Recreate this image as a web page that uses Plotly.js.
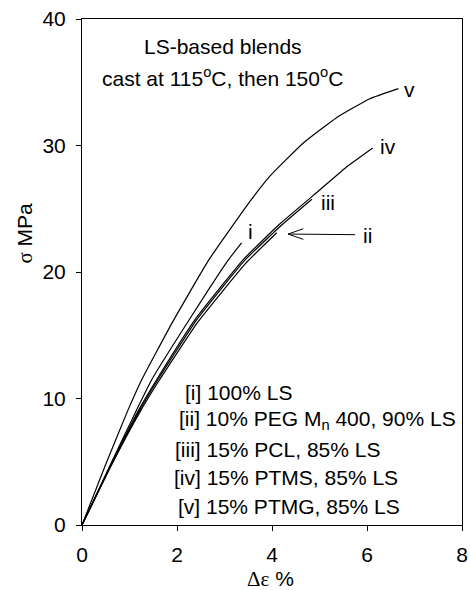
<!DOCTYPE html>
<html>
<head>
<meta charset="utf-8">
<script src="https://cdn.plot.ly/plotly-3.0.1.min.js"></script>
<style>html,body{margin:0;padding:0;background:#fff;}</style>
</head>
<body>
<div id="chart" style="width:470px;height:590px;"></div>
<script>
// Curve data (strain %, stress MPa)
const x_i   = [0, 0.5, 1.15, 1.47, 2.27, 3.07, 3.36];
const y_i   = [0, 4.0, 9.1, 11.5, 16.3, 20.9, 22.3];
const x_ii  = [0, 0.6, 1.23, 1.62, 2.43, 3.45, 4.10];
const y_ii  = [0, 4.6, 9.0, 11.4, 16.0, 20.7, 23.1];
const x_iii = [0, 0.6, 1.22, 1.6, 2.41, 3.42, 4.2, 4.84];
const y_iii = [0, 4.6, 9.1, 11.5, 16.2, 20.9, 23.7, 25.75];
const x_iv  = [0, 0.6, 1.21, 1.59, 2.39, 3.40, 4.18, 5.01, 5.57, 6.12];
const y_iv  = [0, 4.7, 9.2, 11.6, 16.3, 21.0, 23.85, 26.5, 28.3, 29.8];
const x_v   = [0, 0.5, 0.97, 1.26, 1.9, 2.66, 3.54, 3.96, 4.66, 5.36, 6.06, 6.66];
const y_v   = [0, 4.8, 9.1, 11.5, 16.0, 20.9, 25.6, 27.6, 30.2, 32.2, 33.7, 34.5];

const curveLabels = ['i', 'ii', 'iii', 'iv', 'v'];
const labelX = [3.54, 6.0, 5.18, 6.44, 6.9];
const labelY = [23.2, 22.9, 25.5, 29.9, 34.4];

const legendLines = ['[i] 100% LS', '[ii] 10% PEG M<sub>n</sub> 400, 90% LS', '[iii] 15% PCL, 85% LS', '[iv] 15% PTMS, 85% LS', '[v] 15% PTMG, 85% LS'];
const legendLeft = [2.13, 2.0, 1.92, 1.9, 1.98];
const legendY = [10.5, 8.3, 5.93, 3.79, 1.5];

// arrow pointing at curve ii
const arrowTail = [5.75, 22.95];
const arrowTip = [4.34, 23.0];

const xTicks = [0, 2, 4, 6, 8];
const yTicks = [0, 10, 20, 30, 40];

const font = 'Liberation Sans, Arial, sans-serif';
const fs = 21;
const lineStyle = {color: '#000', width: 1.2, shape: 'spline', smoothing: 0.4};

const series = [[x_i, y_i], [x_ii, y_ii], [x_iii, y_iii], [x_iv, y_iv], [x_v, y_v]];
const traces = series.map((s, k) => ({
  x: s[0], y: s[1], mode: 'lines', type: 'scatter', line: lineStyle,
  name: curveLabels[k], hoverinfo: 'skip', showlegend: false
}));

// arrow shaft and open head
const hx = 0.32, hy = 0.42;
traces.push({
  x: [arrowTail[0], arrowTip[0], null, arrowTip[0] + hx, arrowTip[0], arrowTip[0] + hx],
  y: [arrowTail[1], arrowTip[1], null, arrowTip[1] + hy, arrowTip[1], arrowTip[1] - hy],
  mode: 'lines', type: 'scatter', line: {color: '#000', width: 1}, showlegend: false, hoverinfo: 'skip'
});

const annotations = [];
curveLabels.forEach((t, k) => annotations.push({
  x: labelX[k], y: labelY[k], xref: 'x', yref: 'y', text: t, showarrow: false,
  xanchor: 'center', yanchor: 'middle',
  font: {family: font, size: fs, color: '#000'}
}));
legendLines.forEach((t, k) => annotations.push({
  x: legendLeft[k], y: legendY[k], xref: 'x', yref: 'y', text: t, showarrow: false,
  xanchor: 'left', yanchor: 'middle', font: {family: font, size: fs, color: '#000'}
}));
annotations.push({
  x: 0.372, y: 0.945, xref: 'paper', yref: 'paper', text: 'LS-based blends', showarrow: false,
  xanchor: 'center', yanchor: 'middle', font: {family: font, size: fs, color: '#000'}
});
annotations.push({
  x: 0.37, y: 0.885, xref: 'paper', yref: 'paper', text: 'cast at 115<sup>o</sup>C, then 150<sup>o</sup>C', showarrow: false,
  xanchor: 'center', yanchor: 'middle', font: {family: font, size: fs, color: '#000'}
});
// axis titles
annotations.push({
  x: 0.495, y: 0, xref: 'paper', yref: 'paper', yshift: -54, xanchor: 'center', yanchor: 'middle',
  text: '<span style="font-family:Liberation Serif">Δε</span> %',
  showarrow: false, font: {family: font, size: fs, color: '#000'}
});
annotations.push({
  x: 0, y: 0.576, xref: 'paper', yref: 'paper', xshift: -57, xanchor: 'center', yanchor: 'middle',
  text: '<span style="font-family:Liberation Serif">σ</span> MPa',
  textangle: -90, showarrow: false, font: {family: font, size: fs, color: '#000'}
});

const layout = {
  width: 470, height: 590,
  margin: {l: 82, r: 8, t: 19, b: 65},
  paper_bgcolor: '#fff', plot_bgcolor: '#fff',
  showlegend: false,
  xaxis: {
    range: [0, 8], tickvals: xTicks, ticktext: xTicks.map(String),
    ticks: 'outside', ticklen: 5, tickcolor: '#000', tickwidth: 1,
    showline: true, linecolor: '#000', linewidth: 1, mirror: true,
    showgrid: false, zeroline: false, ticklabelstandoff: 6,
    tickfont: {family: font, size: fs, color: '#000'}
  },
  yaxis: {
    range: [0, 40], tickvals: yTicks, ticktext: yTicks.map(String),
    ticks: 'outside', ticklen: 5, tickcolor: '#000', tickwidth: 1,
    showline: true, linecolor: '#000', linewidth: 1, mirror: true,
    showgrid: false, zeroline: false, ticklabelstandoff: 6,
    tickfont: {family: font, size: fs, color: '#000'}
  },
  annotations: annotations
};

Plotly.newPlot('chart', traces, layout, {staticPlot: true, displayModeBar: false});
</script>
</body>
</html>
